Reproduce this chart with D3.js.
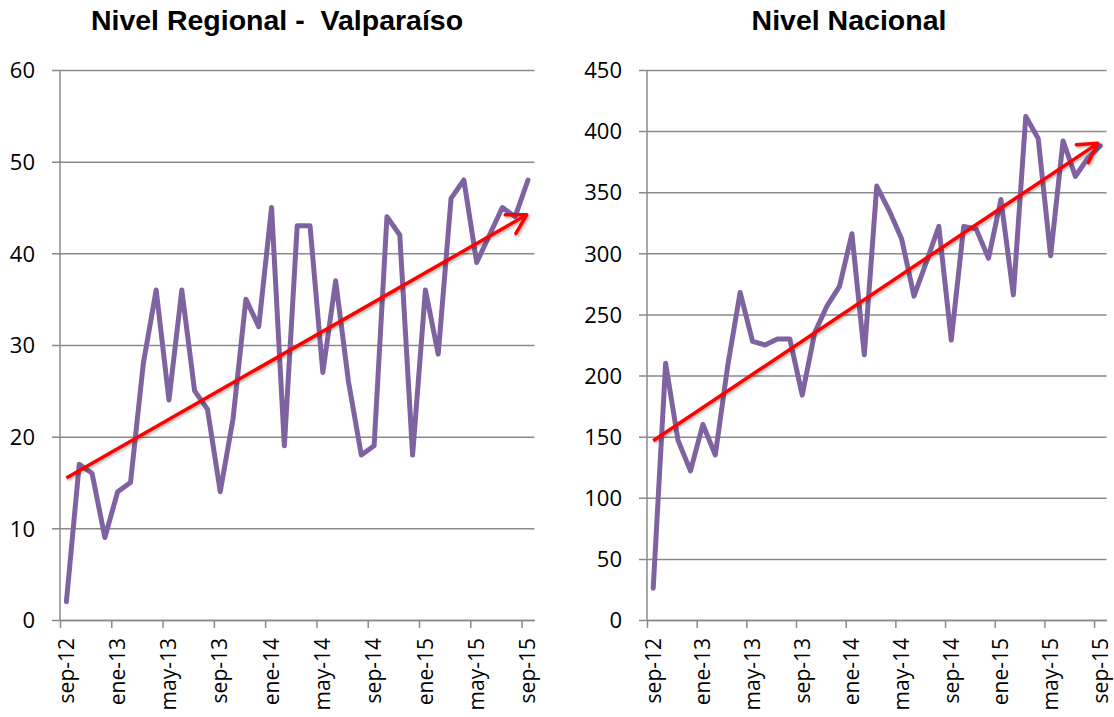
<!DOCTYPE html>
<html>
<head>
<meta charset="utf-8">
<script src="https://cdn.jsdelivr.net/npm/d3@7"></script>
<style>
  body { margin: 0; background: #fff; }
  .tick text { font-family: "Open Sans", sans-serif; font-size: 22px; fill: #000; }
  .x-axis .tick text { font-size: 21px; }
  .title { font-family: "Liberation Sans", Arial, sans-serif; font-weight: bold; font-size: 28.5px; }
</style>
</head>
<body>
<div id="chart-area"></div>
<script>
/* data */
const monthCount = 37  // sep-12 .. sep-15
const tickIndex = [0, 4, 8, 12, 16, 20, 24, 28, 32, 36]
const tickLabels = ["sep-12", "ene-13", "may-13", "sep-13", "ene-14", "may-14", "sep-14", "ene-15", "may-15", "sep-15"]

const regionalValues = [2, 17, 16, 9, 14, 15, 28, 36, 24, 36, 25, 23, 14, 22, 35, 32, 45, 19, 43, 43,
  27, 37, 26, 18, 19, 44, 42, 18, 36, 29, 46, 48, 39, 42, 45, 44, 48]
const nacionalValues = [26, 210, 147, 122, 160, 135, 208, 268, 228, 225, 230, 230, 184, 235, 257, 273, 316, 217, 355, 335,
  312, 265, 293, 322, 229, 322, 320, 296, 344, 266, 412, 394, 298, 392, 363, 378, 388]

// trend arrows: [month index, value] start and end
const regionalTrend = [[0, 15.5], [35.9, 44.2]]
const nacionalTrend = [[0, 146.6], [35.8, 390]]

const regionalTicks = [0, 10, 20, 30, 40, 50, 60]
const nacionalTicks = [0, 50, 100, 150, 200, 250, 300, 350, 400, 450]

/* chart area */
const WIDTH = 1114
const HEIGHT = 717
const TOP = 70
const BOTTOM = 620

const svg = d3.select("#chart-area").append("svg")
  .attr("width", WIDTH)
  .attr("height", HEIGHT)

const defs = svg.append("defs")
defs.append("marker")
  .attr("id", "arrow")
  .attr("markerUnits", "userSpaceOnUse")
  .attr("viewBox", "-25 -15 30 30")
  .attr("refX", 0).attr("refY", 0)
  .attr("markerWidth", 30).attr("markerHeight", 30)
  .attr("orient", "auto")
  .append("path")
  .attr("d", "M-18.6,-10.75 L0,0 L-18.6,10.75")
  .attr("fill", "none")
  .attr("stroke", "#ff0000")
  .attr("stroke-width", 3.5)
  .attr("stroke-linecap", "round")
  .attr("stroke-linejoin", "round")

defs.append("filter")
  .attr("id", "shadow")
  .attr("x", "-10%").attr("y", "-10%").attr("width", "120%").attr("height", "120%")
  .append("feDropShadow")
  .attr("dx", 1.5).attr("dy", 1.5)
  .attr("stdDeviation", 1)
  .attr("flood-color", "#000")
  .attr("flood-opacity", 0.3)

function drawPanel(opts) {
  const x = d3.scaleLinear().domain([0, monthCount]).range([opts.left, opts.right])
  const y = d3.scaleLinear().domain([0, d3.max(opts.yTicks)]).range([BOTTOM, TOP])

  const g = svg.append("g")

  // gridlines + y axis labels
  const yAxis = g.append("g")
    .attr("transform", `translate(${opts.left}, 0)`)
    .call(d3.axisLeft(y)
      .tickValues(opts.yTicks)
      .tickSize(-(opts.right - opts.left))
      .tickSizeOuter(0)
      .tickPadding(25))
  yAxis.select(".domain").remove()
  yAxis.selectAll(".tick line")
    .attr("x1", -8)
    .attr("stroke", "#8a8a8a")
    .attr("stroke-width", 1.5)
  yAxis.selectAll(".tick text").attr("dy", "0.35em")

  // vertical axis line
  g.append("line")
    .attr("x1", opts.left).attr("x2", opts.left)
    .attr("y1", TOP).attr("y2", BOTTOM)
    .attr("stroke", "#8a8a8a")
    .attr("stroke-width", 1.5)

  // x axis
  const xAxis = g.append("g")
    .attr("class", "x-axis")
    .attr("transform", `translate(0, ${BOTTOM})`)
    .call(d3.axisBottom(x)
      .tickValues(tickIndex)
      .tickFormat((d, i) => tickLabels[i])
      .tickSize(8)
      .tickSizeOuter(0))
  xAxis.select(".domain")
    .attr("stroke", "#8a8a8a")
    .attr("stroke-width", 1.5)
  xAxis.selectAll(".tick line")
    .attr("stroke", "#8a8a8a")
    .attr("stroke-width", 1.5)
  xAxis.selectAll(".tick text")
    .attr("transform", "rotate(-90)")
    .attr("text-anchor", "end")
    .attr("x", -18)
    .attr("y", 13)
    .attr("dy", 0)

  // data line
  const line = d3.line()
    .x((d, i) => x(i + 0.5))
    .y(d => y(d))

  g.append("path")
    .datum(opts.values)
    .attr("fill", "none")
    .attr("stroke", "#7f63a1")
    .attr("stroke-width", 5)
    .attr("stroke-linejoin", "round")
    .attr("stroke-linecap", "round")
    .attr("d", line)

  // trend arrow
  g.append("line")
    .attr("x1", x(opts.trend[0][0] + 0.5))
    .attr("y1", y(opts.trend[0][1]))
    .attr("x2", x(opts.trend[1][0] + 0.5))
    .attr("y2", y(opts.trend[1][1]))
    .attr("stroke", "#ff0000")
    .attr("stroke-width", 3.5)
    .attr("marker-end", "url(#arrow)")
    .attr("filter", "url(#shadow)")

  // title
  svg.append("text")
    .attr("class", "title")
    .attr("x", opts.titleX)
    .attr("y", 30)
    .attr("text-anchor", "middle")
    .style("white-space", "pre")
    .text(opts.title)
}

drawPanel({
  left: 60, right: 534.4,
  yTicks: regionalTicks,
  values: regionalValues,
  trend: regionalTrend,
  title: "Nivel Regional -  Valparaíso",
  titleX: 277
})

drawPanel({
  left: 647, right: 1106.5,
  yTicks: nacionalTicks,
  values: nacionalValues,
  trend: nacionalTrend,
  title: "Nivel Nacional",
  titleX: 849
})
</script>
</body>
</html>
